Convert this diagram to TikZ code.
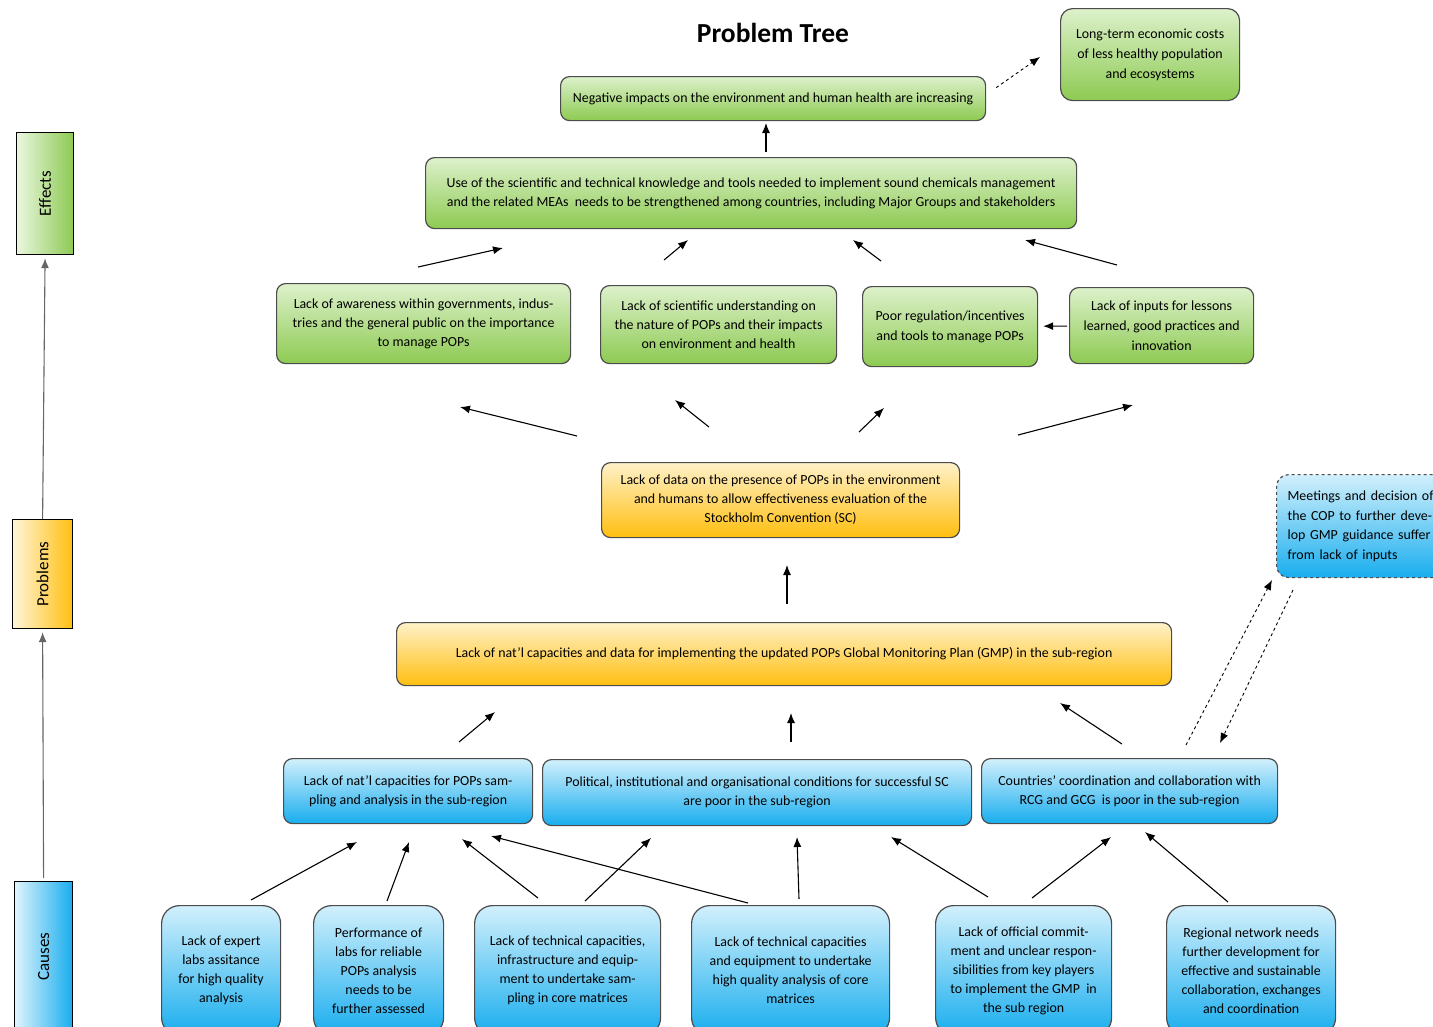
\documentclass[tikz,border=0pt]{standalone}
\usepackage{fontspec}
\usepackage{graphicx}
\setmainfont{Carlito}
\usetikzlibrary{positioning,arrows.meta}

\definecolor{grnlight}{HTML}{DDF1CB}
\definecolor{grndark}{HTML}{8DCA52}
\definecolor{orglight}{HTML}{FFF1C8}
\definecolor{orgdark}{HTML}{FFBF10}
\definecolor{blulight}{HTML}{D2F0FC}
\definecolor{bludark}{HTML}{18ADEE}

\begin{document}
\begin{tikzpicture}[x=1pt,y=-1pt,>={Latex[length=10pt,width=8pt]},line width=1.1pt,
    font=\fontsize{13.9}{19}\selectfont]
  \tikzstyle{box}=[draw=black!70,line width=1.2pt,rounded corners=9pt,align=center,
    inner sep=2pt,anchor=north west]
  \tikzstyle{effect}=[box,top color=grnlight,bottom color=grndark]
  \tikzstyle{problem}=[box,top color=orglight,bottom color=orgdark]
  \tikzstyle{cause}=[box,top color=blulight,bottom color=bludark]
  \tikzstyle{level}=[draw=black,line width=1.2pt,anchor=north west,inner sep=0pt,
    font=\fontsize{17}{20}\selectfont]

  \useasboundingbox (0,0) rectangle (1433,1026);

  % Title
  \node (title) at (773,33) {\fontsize{27.5}{30}\selectfont\bfseries Problem Tree};

  % Levels
  \node[level,left color=grnlight!60,right color=grndark,minimum width=57,minimum height=122]
    (Effects) at (16,132) {\rotatebox{90}{Effects}};
  \node[level,left color=orglight!70,right color=orgdark,minimum width=60,minimum height=109]
    (Problems) at (12,519) {\rotatebox{90}{Problems}};
  \node[level,left color=blulight!70,right color=bludark,minimum width=58,minimum height=150]
    (Causes) at (14,881) {\rotatebox{90}{Causes}};

  \draw[->,draw=black!60,shorten >=3pt] (Problems.north) -- (Effects.south);
  \draw[->,draw=black!60,shorten >=3pt,shorten <=3pt] (Causes.north) -- (Problems.south);

  % Effects
  \node[effect,minimum width=179,minimum height=92,rounded corners=12pt,font=\fontsize{13.9}{20}\selectfont]
    (Long) at (1060,8) {Long-term economic costs\\of less healthy population\\and ecosystems};
  \node[effect,minimum width=425,minimum height=44] (Neg) at (560,76)
    {Negative impacts on the environment and human health are increasing};
  \node[effect,minimum width=651,minimum height=71] (Use) at (425,157)
    {Use of the scientific and technical knowledge and tools needed to implement sound chemicals management\\
     and the related MEAs\ \ needs to be strengthened among countries, including Major Groups and stakeholders};
  \node[effect,minimum width=294,minimum height=80] (A1) at (276,283)
    {Lack of awareness within governments, indus-\\tries and the general public on the importance\\to manage POPs};
  \node[effect,minimum width=236,minimum height=78] (A2) at (600,285)
    {Lack of scientific understanding on\\the nature of POPs and their impacts\\on environment and health};
  \node[effect,minimum width=175,minimum height=80,font=\fontsize{13.9}{20}\selectfont] (A3) at (862,286)
    {Poor regulation/incentives\\and tools to manage POPs};
  \node[effect,minimum width=184,minimum height=76,font=\fontsize{13.9}{20}\selectfont] (A4) at (1069,287)
    {Lack of inputs for lessons\\learned, good practices and\\innovation};

  % Problems
  \node[problem,minimum width=358,minimum height=75] (Data) at (601,462)
    {Lack of data on the presence of POPs in the environment\\and humans to allow effectiveness evaluation of the\\Stockholm Convention (SC)};
  \node[problem,minimum width=775,minimum height=63] (GMP) at (396,622)
    {Lack of nat’l capacities and data for implementing the updated POPs Global Monitoring Plan (GMP) in the sub-region};

  % Causes
  \node[cause,dashed,minimum height=103,text width=200,align=left,inner xsep=11pt,rounded corners=12pt,
    font=\fontsize{13.9}{19.5}\selectfont] (COP) at (1276,474)
    {Meetings and decision of\\the COP to further deve-\\lop GMP guidance suffer\\from lack of inputs};
  \node[cause,minimum width=249,minimum height=65] (B1) at (283,758)
    {Lack of nat’l capacities for POPs sam-\\pling and analysis in the sub-region};
  \node[cause,minimum width=429,minimum height=66] (B2) at (542,759)
    {Political, institutional and organisational conditions for successful SC\\are poor in the sub-region};
  \node[cause,minimum width=296,minimum height=65] (B3) at (981,758)
    {Countries’ coordination and collaboration with\\RCG and GCG\ \ is poor in the sub-region};

  \node[cause,minimum width=119,minimum height=130,rounded corners=18pt] (C1) at (161,905)
    {Lack of expert\\labs assitance\\for high quality\\analysis};
  \node[cause,minimum width=130,minimum height=130,rounded corners=18pt] (C2) at (313,905)
    {Performance of\\labs for reliable\\POPs analysis\\needs to be\\further assessed};
  \node[cause,minimum width=186,minimum height=130,rounded corners=18pt] (C3) at (474,905)
    {Lack of technical capacities,\\infrastructure and equip-\\ment to undertake sam-\\pling in core matrices};
  \node[cause,minimum width=198,minimum height=130,rounded corners=18pt] (C4) at (691,905)
    {Lack of technical capacities\\and equipment to undertake\\high quality analysis of core\\matrices};
  \node[cause,minimum width=176,minimum height=130,rounded corners=18pt] (C5) at (935,905)
    {Lack of official commit-\\ment and unclear respon-\\sibilities from key players\\to implement the GMP\ \ in\\the sub region};
  \node[cause,minimum width=169,minimum height=130,rounded corners=18pt] (C6) at (1166,905)
    {Regional network needs\\further development for\\effective and sustainable\\collaboration, exchanges\\and coordination};

  % Connectors between boxes
  \draw[->,shorten <=2pt,shorten >=5pt] (A4) -- (A3);
  \draw[->,dashed,line width=0.9pt] (Neg.east) ++(10,-11) coordinate (n1) -- (1040,57) coordinate (n2);

  % Floating arrows
  \foreach \sx/\sy/\tx/\ty [count=\i] in {766/152/766/123,
      418/267/503/248, 664/260/688/240, 881/261/853/240, 1117/265/1025/240,
      577/436/460/407, 709/427/675/400, 859/432/884/408, 1018/435/1133/405,
      787/604/787/565,
      459/742/495/712, 791/742/791/713, 1122/744/1060/703,
      251/900/357/842, 387/901/409/842, 538/898/462/839, 585/901/651/838,
      748/903/491/836, 799/899/797/837, 988/897/891/837, 1032/898/1111/837,
      1228/902/1145/832}
  {
    \coordinate (s\i) at (\sx,\sy);
    \coordinate (t\i) at (\tx,\ty);
    \draw[->] (s\i) -- (t\i);
  }

  % Dashed links to the COP box
  \coordinate (d1) at (1186,745);
  \coordinate (d2) at (1272,580);
  \coordinate (d3) at (1293,590);
  \coordinate (d4) at (1220,743);
  \draw[->,dashed,line width=0.9pt] (d1) -- (d2);
  \draw[->,dashed,line width=0.9pt] (d3) -- (d4);
\end{tikzpicture}
\end{document}
